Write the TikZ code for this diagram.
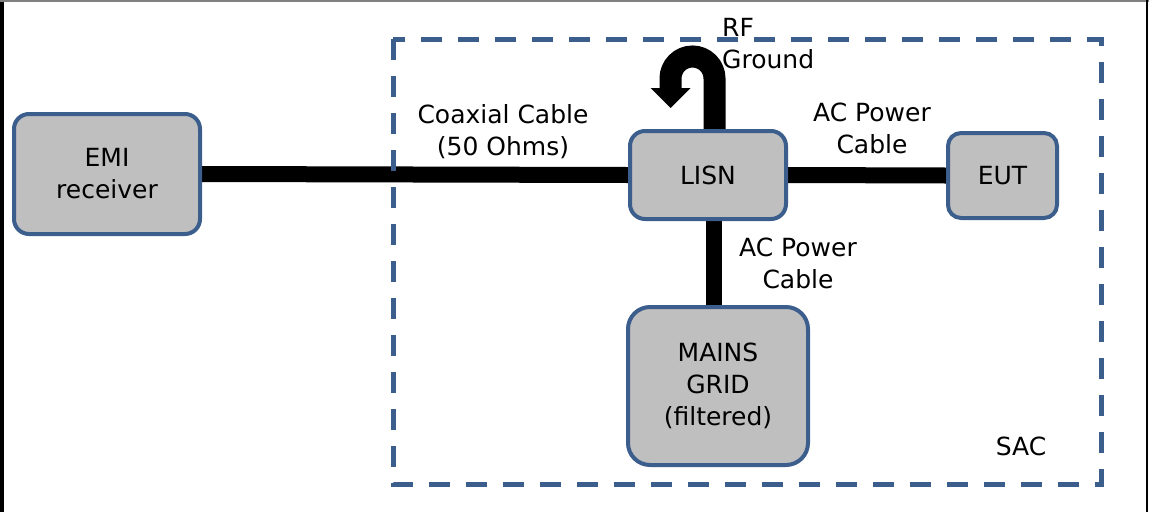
\documentclass[tikz,border=0pt]{standalone}
\usepackage{fontspec}
\setmainfont{DejaVu Sans}
\usetikzlibrary{arrows.meta,backgrounds}
\definecolor{boxblue}{RGB}{59,94,140}
\definecolor{boxgray}{RGB}{191,191,191}
\begin{document}
\begin{tikzpicture}[x=1pt,y=-1pt,
  every node/.style={font=\fontsize{25}{32}\selectfont},
  box/.style={draw=boxblue, line width=4pt, fill=boxgray, rounded corners=15pt, align=center, inner sep=0pt},
  cable/.style={line width=16pt, black},
  lbl/.style={align=center, inner sep=0pt, anchor=base}]
\useasboundingbox (0,0) rectangle (1149,512);
\draw[black, line width=3.5pt] (2,0) -- (2,512);
\draw[gray, line width=1.5pt] (0,1) -- (1149,1);
\draw[black, line width=2pt] (1147,0) -- (1147,512);

\node[box, minimum width=186pt, minimum height=120pt] (emi) at (107,174) {EMI\\receiver};
\node[box, minimum width=156pt, minimum height=88pt] (lisn) at (708,175) {LISN};
\node[box, minimum width=109pt, minimum height=85pt, rounded corners=13pt] (eut) at (1002.5,175.5) {EUT};
\node[box, minimum width=180pt, minimum height=158pt, rounded corners=22pt] (mains) at (718,386) {MAINS\\GRID\\(filtered)};

\begin{scope}[on background layer]
\draw[cable] (emi.east) -- (lisn.west);
\draw[cable] (lisn.east) -- (eut.west);
\draw[cable] ([xshift=6pt]lisn.south) -- ([xshift=-4pt]mains.north);
\coordinate (rfend) at (670.5,108);
\draw[line width=22pt, -{Triangle[width=40pt,length=20pt,line width=0pt]}] ([xshift=6.5pt]lisn.north) -- ++(0,-50.5) arc[start angle=0, end angle=-180, radius=22] -- (rfend);
\end{scope}

\node[lbl] (coax) at (503,155) {Coaxial Cable\\(50 Ohms)};
\node[lbl, align=left, anchor=base west] (rf) at (722,68) {RF\\Ground};
\node[lbl] (acp1) at (872,153) {AC Power\\Cable};
\node[lbl] (acp2) at (798,288) {AC Power\\Cable};
\node[lbl] (sac) at (1021,455) {SAC};

\draw[boxblue, line width=5pt, dash pattern=on 21pt off 16pt] (393,39) rectangle (1101,484);
\end{tikzpicture}
\end{document}
